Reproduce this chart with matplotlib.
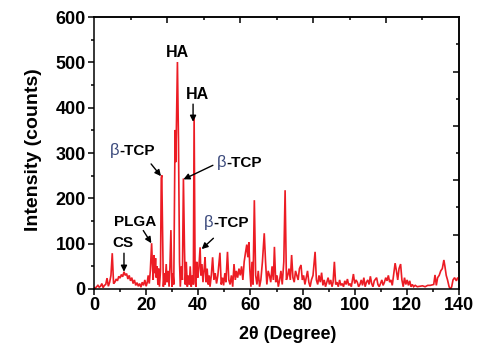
import matplotlib
matplotlib.use("Agg")
import matplotlib.pyplot as plt

plt.rcParams['font.family'] = ['Liberation Sans', 'DejaVu Sans']

two_theta = [0, 0.5, 1, 1.5, 2, 2.5, 3, 3.5, 4, 4.5, 5, 5.5, 6, 6.5, 7.0, 7.5,
             8, 8.5, 9, 9.5, 10, 10.5, 11, 11.5, 12, 12.5, 13, 13.5, 14, 14.5, 15, 15.5,
             16, 16.5, 17, 17.5, 18, 18.5, 19, 19.5,
             20.0, 20.4, 20.8, 21.2, 21.6, 22.1, 22.4, 22.7, 23.0, 23.3, 23.6, 23.9,
             24.2, 24.5, 24.8, 25.1, 25.5, 25.8, 26.0, 26.3, 26.6, 27.0, 27.3, 27.7,
             28.0, 28.4, 28.8, 29.1, 29.5, 29.9, 30.3, 30.6, 31.1, 31.4, 32.0, 32.4,
             32.8, 33.1, 33.5, 33.9, 34.3, 34.7, 35.0, 35.4, 35.8, 36.2, 36.6, 36.9,
             37.3, 37.7, 38.1, 38.4, 38.8, 39.1, 39.4, 39.8, 40.2, 40.7, 41.0, 41.4,
             41.8, 42.2, 42.6, 43.0, 43.4, 43.8, 44.2, 44.5, 45.0, 45.5,
             46.0, 46.5, 47.0, 47.5, 48.3,
             48.8, 49.3, 49.7, 50.2, 50.6, 51.2, 51.7, 52.2, 52.7, 53.2, 53.7, 54.2, 54.6,
             55.1, 55.6, 56.1, 56.6, 57.1, 57.6, 58.1, 58.6, 59.0, 59.4, 59.8, 60.2, 60.6,
             61.0, 61.5, 62.0, 62.5, 63.0, 63.5, 64.0, 64.6, 65.3, 65.8, 66.3, 66.8, 67.3,
             67.8, 68.3, 68.8, 69.2, 69.7, 70.2, 70.7, 71.2, 71.7, 72.2, 72.8, 73.3, 73.8,
             74.3, 74.8, 75.3, 75.8, 76.3, 76.8, 77.3, 77.8, 78.3, 78.8, 79.4, 79.9, 80.4,
             80.9, 81.4, 81.9, 82.4, 82.9, 83.4, 84.0, 84.8, 85.3, 85.8, 86.3, 86.8, 87.3,
             87.8, 88.3, 88.8, 89.3, 89.8, 90.3, 90.8, 91.3, 91.7, 92.2, 92.7, 93.2, 93.7,
             94.2, 94.7, 95.2, 95.7, 96.2, 96.7, 97.2, 97.7, 98.2, 98.7, 99.5, 100.0, 100.5,
             101.0, 101.5, 102.0, 102.5, 103.0, 103.5, 104.0, 104.5, 105.0, 105.5, 106.0,
             106.5, 107.0, 107.5, 108.4, 108.9, 109.4, 109.9, 110.4, 110.9, 111.4, 111.9,
             112.4, 112.9, 113.4, 113.9, 114.4, 114.9, 115.5, 116.0, 116.5, 117.0, 117.6,
             118.1, 118.6, 119.1, 119.6, 120.1, 120.6, 121.1, 121.6, 122.1, 122.6, 123.2,
             124, 125, 126, 127, 128, 129, 130.3, 130.8, 131.3, 131.8, 132.4, 133.0, 133.6,
             134.2, 134.6, 135.1, 135.6, 136.2, 136.7, 137.2, 137.7, 138.3, 139.0, 139.5, 140]

intensity = [3, 2, 5, 8, 4, 6, 12, 3, 8, 10, 24, 6, 15, 30, 79, 12,
             15, 22, 18, 28, 24, 32, 27, 38, 30, 34, 22, 30, 18, 25, 12, 20,
             8, 14, 6, 12, 4, 15, 8, 20,
             6, 14, 30, 12, 40, 101, 55, 20, 75, 35, 68, 25,
             50, 10, 45, 5, 40, 245, 251, 120, 5, 35, 10, 55,
             15, 40, 5, 45, 130, 5, 35, 10, 351, 280, 501, 330,
             60, 5, 50, 20, 244, 90, 10, 60, 5, 30, 10, 50,
             5, 30, 10, 380, 15, 5, 60, 25, 45, 92, 30, 55,
             15, 40, 70, 15, 45, 10, 30, 5, 30, 70,
             20, 35, 12, 30, 80,
             10, 25, 8, 35, 15, 82, 20, 10, 30, 5, 55, 20, 40,
             25, 45, 30, 50, 20, 60, 80, 98, 70, 103, 40, 5, 60,
             10, 196, 30, 10, 40, 5, 20, 60, 123, 60, 10, 40, 30,
             15, 50, 20, 93, 15, 30, 5, 20, 40, 10, 60, 218, 20,
             30, 45, 20, 75, 25, 15, 40, 30, 20, 45, 53, 20, 30,
             10, 25, 40, 15, 5, 20, 30, 82, 20, 10, 30, 15, 36,
             8, 20, 5, 15, 25, 10, 20, 5, 15, 60, 10, 15, 5,
             20, 8, 12, 5, 18, 10, 22, 8, 12, 5, 33, 12, 20,
             15, 5, 10, 20, 8, 25, 5, 15, 20, 10, 28,
             12, 5, 18, 25, 10, 5, 12, 20, 8, 15, 25,
             18, 30, 15, 20, 8, 30, 57, 40, 20, 45, 55,
             20, 5, 25, 10, 20, 8, 18, 5, 10, 5, 8,
             5, 6, 7, 5, 8, 8, 10, 31, 8, 25, 30, 40, 45,
             64, 50, 30, 20, 5, 0, 5, 20, 25, 18, 25, 22]

x_ticks = [0, 20, 40, 60, 80, 100, 120, 140]
y_ticks = [0, 100, 200, 300, 400, 500, 600]

fig = plt.figure(figsize=(5.0, 3.57), dpi=100)
ax = fig.add_axes([0.188, 0.1905, 0.730, 0.7615])

ax.plot(two_theta, intensity, color='#ec1c24', lw=1.2, solid_joinstyle='miter')

ax.set_xlim(0, 140)
ax.set_ylim(0, 600)
ax.set_xticks(x_ticks)
ax.set_xticks([10, 30, 50, 70, 90, 110, 130], minor=True)
ax.set_yticks(y_ticks)
ax.set_yticks([50, 150, 250, 350, 450, 550], minor=True)
ax.tick_params(which='major', direction='out', length=4, width=1.1, labelsize=13, pad=2)
ax.tick_params(which='minor', direction='out', length=2.5, width=1.1)
for lab in ax.get_xticklabels() + ax.get_yticklabels():
    lab.set_fontweight('bold')
for sp in ax.spines.values():
    sp.set_linewidth(1.1)

sx = ax.secondary_xaxis('top')
sx.set_xticks([28, 56, 84, 112])
sx.set_xticks([14, 42, 70, 98, 126], minor=True)
sx.tick_params(which='major', direction='in', length=4, width=1.1, labeltop=False)
sx.tick_params(which='minor', direction='in', length=2.5, width=1.1)
sy = ax.secondary_yaxis('right')
sy.set_yticks([120, 240, 360, 480])
sy.set_yticks([60, 180, 300, 420, 540], minor=True)
sy.tick_params(which='major', direction='in', length=4, width=1.1, labelright=False)
sy.tick_params(which='minor', direction='in', length=2.5, width=1.1)
for s in (sx, sy):
    for sp in s.spines.values():
        sp.set_linewidth(1.1)

ax.set_xlabel('2θ (Degree)', fontsize=13, fontweight='bold')
ax.xaxis.set_label_coords(0.53, -0.136)
ax.set_ylabel('Intensity (counts)', fontsize=14, fontweight='bold')
ax.yaxis.set_label_coords(-0.142, 0.511)

arrow = dict(arrowstyle='-|>', color='black', lw=1.0, mutation_scale=9,
             shrinkA=0, shrinkB=0)
fs = 11

ax.text(32.0, 523, 'HA', fontsize=fs + 0.5, fontweight='bold', ha='center', va='center')
ax.text(39.5, 430, 'HA', fontsize=fs + 0.5, fontweight='bold', ha='center', va='center')
ax.annotate('', xy=(38.0, 369), xytext=(38.0, 408), arrowprops=arrow)
ax.text(11.1, 101, 'CS', fontsize=fs, fontweight='bold', ha='center', va='center')
ax.annotate('', xy=(11.5, 38), xytext=(11.5, 79), arrowprops=arrow)
ax.text(15.7, 148, 'PLGA', fontsize=fs, fontweight='bold', ha='center', va='center')
ax.annotate('', xy=(22.0, 101), xytext=(18.9, 129), arrowprops=arrow)


def tcp_label(x_left, y_base):
    t = ax.text(x_left, y_base, 'β', fontsize=fs + 1, color='#3b4a7c',
                ha='left', va='baseline')
    ax.annotate('-TCP', xy=(1, y_base), xycoords=(t, 'data'), fontsize=fs,
                fontweight='bold', ha='left', va='baseline')


tcp_label(6.2, 296)
ax.annotate('', xy=(25.7, 249), xytext=(21.9, 276), arrowprops=arrow)
tcp_label(47.0, 269)
ax.annotate('', xy=(34.3, 242), xytext=(45.6, 273), arrowprops=arrow)
tcp_label(42.3, 137)
ax.annotate('', xy=(41.3, 88), xytext=(45.8, 112), arrowprops=arrow)

fig.savefig('out.png', dpi=100)
